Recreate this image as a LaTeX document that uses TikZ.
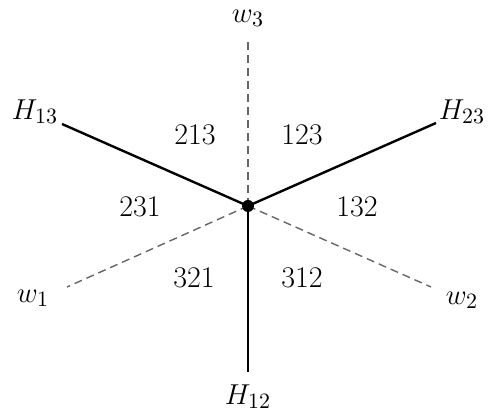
\documentclass[tikz,border=0pt]{standalone}
\begin{document}
\begin{tikzpicture}[x=0.5pt,y=-0.5pt,
  wall/.style={line width=1.2pt},
  wline/.style={dash pattern=on 4pt off 2.5pt,line width=0.7pt,gray!80!black},
  lab/.style={font=\fontsize{15}{18}\selectfont,inner sep=1pt}]
\useasboundingbox (0,0) rectangle (488,415);
\coordinate (o) at (248,206);
\coordinate (h12) at (248,372);
\coordinate (h13) at (62,124);
\coordinate (h23) at (436,123);
\coordinate (w3) at (248,41);
\coordinate (w1) at (67,287);
\coordinate (w2) at (431,287);
\draw[wline] (o) -- (w3);
\draw[wline] (o) -- (w1);
\draw[wline] (o) -- (w2);
\draw[wall] (o) -- (h12);
\draw[wall] (o) -- (h13);
\draw[wall] (o) -- (h23);
\fill (o) circle (6);
\node[lab] (lw3) at (248,18) {$w_3$};
\node[lab] (lw1) at (33,298) {$w_1$};
\node[lab] (lw2) at (462,300) {$w_2$};
\node[lab] (lh12) at (248,397) {$H_{12}$};
\node[lab] (lh13) at (35,112) {$H_{13}$};
\node[lab] (lh23) at (462,112) {$H_{23}$};
\node[lab] (r213) at (195,135) {213};
\node[lab] (r123) at (302,135) {123};
\node[lab] (r231) at (140,207) {231};
\node[lab] (r132) at (357,207) {132};
\node[lab] (r321) at (194,278) {321};
\node[lab] (r312) at (302,278) {312};
\end{tikzpicture}
\end{document}
